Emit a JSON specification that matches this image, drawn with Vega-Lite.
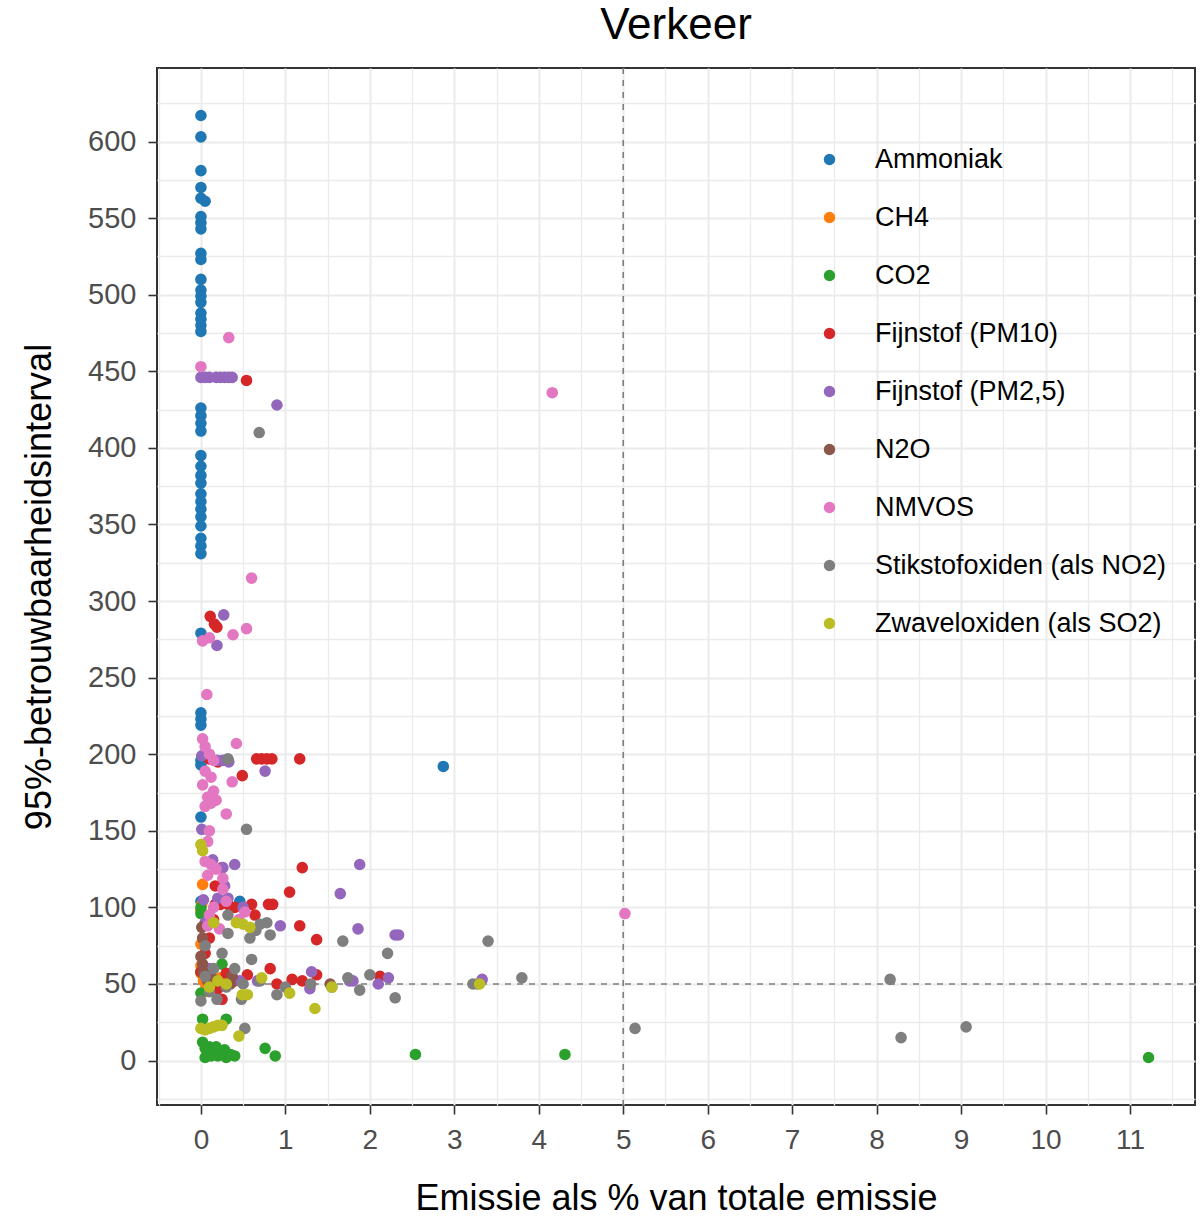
{
"$schema": "https://vega.github.io/schema/vega-lite/v6.json",
"width": 1038, "height": 1037,
"autosize": {"type": "none"},
"padding": {"left": 157, "top": 68, "right": 8, "bottom": 111},
"background": "white",
"config": {
  "font": "Liberation Sans",
  "view": {"stroke": "#333333", "strokeWidth": 2},
  "axis": {"domain": false, "gridColor": "#EBEBEB", "tickColor": "#333333", "tickWidth": 1.6, "tickSize": 9, "labelPadding": 7, "labelFont": "Liberation Sans", "labelFontSize": 28, "labelColor": "#4D4D4D", "titleFont": "Liberation Sans", "titleFontSize": 36, "titleFontWeight": "normal", "titleColor": "#000000"}
},
"title": {"text": "Verkeer", "fontSize": 44, "font": "Liberation Sans", "fontWeight": "normal", "anchor": "middle", "offset": 19, "color": "#000000"},
"resolve": {"axis": {"y": "independent"}},
"datasets": {
"punten": [
{"stof":"Ammoniak","emissie":0,"interval":617},{"stof":"Ammoniak","emissie":0,"interval":603},{"stof":"Ammoniak","emissie":0,"interval":581},{"stof":"Ammoniak","emissie":0,"interval":570},{"stof":"Ammoniak","emissie":0,"interval":563},{"stof":"Ammoniak","emissie":0.05,"interval":561},{"stof":"Ammoniak","emissie":0,"interval":551},{"stof":"Ammoniak","emissie":0,"interval":547},{"stof":"Ammoniak","emissie":0,"interval":543},{"stof":"Ammoniak","emissie":0,"interval":527},{"stof":"Ammoniak","emissie":0,"interval":523},{"stof":"Ammoniak","emissie":0,"interval":510},{"stof":"Ammoniak","emissie":0,"interval":503},{"stof":"Ammoniak","emissie":0,"interval":499},{"stof":"Ammoniak","emissie":0,"interval":495},{"stof":"Ammoniak","emissie":0,"interval":488},{"stof":"Ammoniak","emissie":0,"interval":484},{"stof":"Ammoniak","emissie":0,"interval":480},{"stof":"Ammoniak","emissie":0,"interval":476},{"stof":"Ammoniak","emissie":0,"interval":426},{"stof":"Ammoniak","emissie":0,"interval":421},{"stof":"Ammoniak","emissie":0,"interval":416},{"stof":"Ammoniak","emissie":0,"interval":411},{"stof":"Ammoniak","emissie":0,"interval":395},{"stof":"Ammoniak","emissie":0,"interval":388},{"stof":"Ammoniak","emissie":0,"interval":382},{"stof":"Ammoniak","emissie":0,"interval":377},{"stof":"Ammoniak","emissie":0,"interval":370},{"stof":"Ammoniak","emissie":0,"interval":365},{"stof":"Ammoniak","emissie":0,"interval":360},{"stof":"Ammoniak","emissie":0,"interval":355},{"stof":"Ammoniak","emissie":0,"interval":349},{"stof":"Ammoniak","emissie":0,"interval":341},{"stof":"Ammoniak","emissie":0,"interval":336},{"stof":"Ammoniak","emissie":0,"interval":331},{"stof":"Ammoniak","emissie":0,"interval":279},{"stof":"Ammoniak","emissie":0,"interval":227},{"stof":"Ammoniak","emissie":0,"interval":223},{"stof":"Ammoniak","emissie":0,"interval":219},{"stof":"Ammoniak","emissie":0,"interval":196},{"stof":"Ammoniak","emissie":0,"interval":193},{"stof":"Ammoniak","emissie":0,"interval":159},{"stof":"Ammoniak","emissie":0.46,"interval":104},{"stof":"Ammoniak","emissie":0,"interval":104},{"stof":"Ammoniak","emissie":2.87,"interval":192},
{"stof":"CH4","emissie":0.02,"interval":115},{"stof":"CH4","emissie":0.01,"interval":102},{"stof":"CH4","emissie":0,"interval":76},{"stof":"CH4","emissie":0,"interval":57},{"stof":"CH4","emissie":0.03,"interval":52},{"stof":"CH4","emissie":0.06,"interval":49},{"stof":"CH4","emissie":0.1,"interval":56},{"stof":"CH4","emissie":0.15,"interval":50},{"stof":"CH4","emissie":0.23,"interval":54},{"stof":"CH4","emissie":0.05,"interval":45},{"stof":"CH4","emissie":0,"interval":62},{"stof":"CH4","emissie":0.12,"interval":47},{"stof":"CH4","emissie":0,"interval":98},
{"stof":"CO2","emissie":11.22,"interval":2},{"stof":"CO2","emissie":4.31,"interval":4},{"stof":"CO2","emissie":2.54,"interval":4},{"stof":"CO2","emissie":0.88,"interval":3},{"stof":"CO2","emissie":0.76,"interval":8},{"stof":"CO2","emissie":0,"interval":96},{"stof":"CO2","emissie":0,"interval":100},{"stof":"CO2","emissie":0.25,"interval":63},{"stof":"CO2","emissie":0,"interval":44},{"stof":"CO2","emissie":0.02,"interval":27},{"stof":"CO2","emissie":0.3,"interval":27},{"stof":"CO2","emissie":0.02,"interval":12},{"stof":"CO2","emissie":0.05,"interval":8},{"stof":"CO2","emissie":0.08,"interval":4},{"stof":"CO2","emissie":0.12,"interval":3},{"stof":"CO2","emissie":0.15,"interval":6},{"stof":"CO2","emissie":0.2,"interval":3},{"stof":"CO2","emissie":0.25,"interval":5},{"stof":"CO2","emissie":0.3,"interval":2},{"stof":"CO2","emissie":0.35,"interval":4},{"stof":"CO2","emissie":0.4,"interval":3},{"stof":"CO2","emissie":0.1,"interval":9},{"stof":"CO2","emissie":0.18,"interval":9},{"stof":"CO2","emissie":0.28,"interval":7},{"stof":"CO2","emissie":0.05,"interval":2},{"stof":"CO2","emissie":0,"interval":58},
{"stof":"Fijnstof (PM10)","emissie":0.54,"interval":444},{"stof":"Fijnstof (PM10)","emissie":0.11,"interval":290},{"stof":"Fijnstof (PM10)","emissie":0.19,"interval":283},{"stof":"Fijnstof (PM10)","emissie":0.16,"interval":285},{"stof":"Fijnstof (PM10)","emissie":0.66,"interval":197},{"stof":"Fijnstof (PM10)","emissie":0.72,"interval":197},{"stof":"Fijnstof (PM10)","emissie":0.78,"interval":197},{"stof":"Fijnstof (PM10)","emissie":0.84,"interval":197},{"stof":"Fijnstof (PM10)","emissie":1.17,"interval":197},{"stof":"Fijnstof (PM10)","emissie":0.1,"interval":197},{"stof":"Fijnstof (PM10)","emissie":0.2,"interval":195},{"stof":"Fijnstof (PM10)","emissie":0.49,"interval":186},{"stof":"Fijnstof (PM10)","emissie":0.25,"interval":126},{"stof":"Fijnstof (PM10)","emissie":1.2,"interval":126},{"stof":"Fijnstof (PM10)","emissie":1.05,"interval":110},{"stof":"Fijnstof (PM10)","emissie":0.17,"interval":114},{"stof":"Fijnstof (PM10)","emissie":0.17,"interval":102},{"stof":"Fijnstof (PM10)","emissie":0.23,"interval":102},{"stof":"Fijnstof (PM10)","emissie":0.32,"interval":102},{"stof":"Fijnstof (PM10)","emissie":0.6,"interval":102},{"stof":"Fijnstof (PM10)","emissie":0.8,"interval":102},{"stof":"Fijnstof (PM10)","emissie":0.85,"interval":102},{"stof":"Fijnstof (PM10)","emissie":1.17,"interval":88},{"stof":"Fijnstof (PM10)","emissie":1.37,"interval":79},{"stof":"Fijnstof (PM10)","emissie":0.82,"interval":60},{"stof":"Fijnstof (PM10)","emissie":1.08,"interval":53},{"stof":"Fijnstof (PM10)","emissie":0.3,"interval":57},{"stof":"Fijnstof (PM10)","emissie":0.55,"interval":56},{"stof":"Fijnstof (PM10)","emissie":0,"interval":58},{"stof":"Fijnstof (PM10)","emissie":0.64,"interval":95},{"stof":"Fijnstof (PM10)","emissie":0.25,"interval":40},{"stof":"Fijnstof (PM10)","emissie":1.37,"interval":56},{"stof":"Fijnstof (PM10)","emissie":2.12,"interval":55},{"stof":"Fijnstof (PM10)","emissie":0.12,"interval":50},{"stof":"Fijnstof (PM10)","emissie":0.2,"interval":47},{"stof":"Fijnstof (PM10)","emissie":0.4,"interval":52},{"stof":"Fijnstof (PM10)","emissie":0.9,"interval":50},{"stof":"Fijnstof (PM10)","emissie":1.2,"interval":52},{"stof":"Fijnstof (PM10)","emissie":0.05,"interval":70},{"stof":"Fijnstof (PM10)","emissie":0.1,"interval":80},{"stof":"Fijnstof (PM10)","emissie":0.15,"interval":92},{"stof":"Fijnstof (PM10)","emissie":0.4,"interval":100},
{"stof":"Fijnstof (PM2,5)","emissie":0,"interval":446},{"stof":"Fijnstof (PM2,5)","emissie":0.05,"interval":446},{"stof":"Fijnstof (PM2,5)","emissie":0.1,"interval":446},{"stof":"Fijnstof (PM2,5)","emissie":0.18,"interval":446},{"stof":"Fijnstof (PM2,5)","emissie":0.23,"interval":446},{"stof":"Fijnstof (PM2,5)","emissie":0.28,"interval":446},{"stof":"Fijnstof (PM2,5)","emissie":0.33,"interval":446},{"stof":"Fijnstof (PM2,5)","emissie":0.37,"interval":446},{"stof":"Fijnstof (PM2,5)","emissie":0.9,"interval":428},{"stof":"Fijnstof (PM2,5)","emissie":0.27,"interval":291},{"stof":"Fijnstof (PM2,5)","emissie":0.19,"interval":271},{"stof":"Fijnstof (PM2,5)","emissie":0.01,"interval":199},{"stof":"Fijnstof (PM2,5)","emissie":0.19,"interval":196},{"stof":"Fijnstof (PM2,5)","emissie":0.26,"interval":196},{"stof":"Fijnstof (PM2,5)","emissie":0.33,"interval":195},{"stof":"Fijnstof (PM2,5)","emissie":0.76,"interval":189},{"stof":"Fijnstof (PM2,5)","emissie":0.01,"interval":151},{"stof":"Fijnstof (PM2,5)","emissie":0.14,"interval":131},{"stof":"Fijnstof (PM2,5)","emissie":0.4,"interval":128},{"stof":"Fijnstof (PM2,5)","emissie":0.26,"interval":126},{"stof":"Fijnstof (PM2,5)","emissie":1.88,"interval":128},{"stof":"Fijnstof (PM2,5)","emissie":1.65,"interval":109},{"stof":"Fijnstof (PM2,5)","emissie":0.32,"interval":106},{"stof":"Fijnstof (PM2,5)","emissie":0.2,"interval":106},{"stof":"Fijnstof (PM2,5)","emissie":0.94,"interval":88},{"stof":"Fijnstof (PM2,5)","emissie":1.86,"interval":86},{"stof":"Fijnstof (PM2,5)","emissie":2.3,"interval":82},{"stof":"Fijnstof (PM2,5)","emissie":2.34,"interval":82},{"stof":"Fijnstof (PM2,5)","emissie":1.31,"interval":58},{"stof":"Fijnstof (PM2,5)","emissie":1.76,"interval":52},{"stof":"Fijnstof (PM2,5)","emissie":1.8,"interval":52},{"stof":"Fijnstof (PM2,5)","emissie":2.1,"interval":50},{"stof":"Fijnstof (PM2,5)","emissie":2.22,"interval":54},{"stof":"Fijnstof (PM2,5)","emissie":1.29,"interval":47},{"stof":"Fijnstof (PM2,5)","emissie":3.33,"interval":53},{"stof":"Fijnstof (PM2,5)","emissie":0.67,"interval":52},{"stof":"Fijnstof (PM2,5)","emissie":0.46,"interval":52},{"stof":"Fijnstof (PM2,5)","emissie":0.05,"interval":90},{"stof":"Fijnstof (PM2,5)","emissie":0.1,"interval":60},{"stof":"Fijnstof (PM2,5)","emissie":0.28,"interval":114},{"stof":"Fijnstof (PM2,5)","emissie":0.5,"interval":100},{"stof":"Fijnstof (PM2,5)","emissie":0.03,"interval":105},
{"stof":"N2O","emissie":0.01,"interval":87},{"stof":"N2O","emissie":0,"interval":68},{"stof":"N2O","emissie":0.02,"interval":63},{"stof":"N2O","emissie":0.03,"interval":58},{"stof":"N2O","emissie":0.37,"interval":55},{"stof":"N2O","emissie":0.35,"interval":50},{"stof":"N2O","emissie":1.53,"interval":50},{"stof":"N2O","emissie":0.08,"interval":52},{"stof":"N2O","emissie":0.15,"interval":53},{"stof":"N2O","emissie":0.02,"interval":80},
{"stof":"NMVOS","emissie":0.33,"interval":472},{"stof":"NMVOS","emissie":0,"interval":453},{"stof":"NMVOS","emissie":4.16,"interval":436},{"stof":"NMVOS","emissie":0.6,"interval":315},{"stof":"NMVOS","emissie":0.54,"interval":282},{"stof":"NMVOS","emissie":0.38,"interval":278},{"stof":"NMVOS","emissie":0.02,"interval":274},{"stof":"NMVOS","emissie":0.1,"interval":276},{"stof":"NMVOS","emissie":0.07,"interval":239},{"stof":"NMVOS","emissie":0.42,"interval":207},{"stof":"NMVOS","emissie":0.02,"interval":210},{"stof":"NMVOS","emissie":0.05,"interval":205},{"stof":"NMVOS","emissie":0.1,"interval":200},{"stof":"NMVOS","emissie":0.15,"interval":196},{"stof":"NMVOS","emissie":0.05,"interval":189},{"stof":"NMVOS","emissie":0.12,"interval":185},{"stof":"NMVOS","emissie":0.02,"interval":180},{"stof":"NMVOS","emissie":0.15,"interval":176},{"stof":"NMVOS","emissie":0.08,"interval":172},{"stof":"NMVOS","emissie":0.18,"interval":170},{"stof":"NMVOS","emissie":0.05,"interval":166},{"stof":"NMVOS","emissie":0.12,"interval":168},{"stof":"NMVOS","emissie":0.37,"interval":182},{"stof":"NMVOS","emissie":0.3,"interval":161},{"stof":"NMVOS","emissie":0.1,"interval":150},{"stof":"NMVOS","emissie":0.08,"interval":143},{"stof":"NMVOS","emissie":0.05,"interval":130},{"stof":"NMVOS","emissie":0.12,"interval":128},{"stof":"NMVOS","emissie":0.18,"interval":125},{"stof":"NMVOS","emissie":0.08,"interval":121},{"stof":"NMVOS","emissie":0.26,"interval":119},{"stof":"NMVOS","emissie":0.26,"interval":112},{"stof":"NMVOS","emissie":0.3,"interval":104},{"stof":"NMVOS","emissie":0.52,"interval":97},{"stof":"NMVOS","emissie":0.22,"interval":86},{"stof":"NMVOS","emissie":5.02,"interval":96},{"stof":"NMVOS","emissie":0.15,"interval":100},{"stof":"NMVOS","emissie":0.45,"interval":92},{"stof":"NMVOS","emissie":0.1,"interval":95},{"stof":"NMVOS","emissie":0.08,"interval":88},
{"stof":"Stikstofoxiden (als NO2)","emissie":0.69,"interval":410},{"stof":"Stikstofoxiden (als NO2)","emissie":0.54,"interval":151},{"stof":"Stikstofoxiden (als NO2)","emissie":0.32,"interval":197},{"stof":"Stikstofoxiden (als NO2)","emissie":3.4,"interval":78},{"stof":"Stikstofoxiden (als NO2)","emissie":3.22,"interval":50},{"stof":"Stikstofoxiden (als NO2)","emissie":3.27,"interval":50},{"stof":"Stikstofoxiden (als NO2)","emissie":3.8,"interval":54},{"stof":"Stikstofoxiden (als NO2)","emissie":5.14,"interval":21},{"stof":"Stikstofoxiden (als NO2)","emissie":8.16,"interval":53},{"stof":"Stikstofoxiden (als NO2)","emissie":8.29,"interval":15},{"stof":"Stikstofoxiden (als NO2)","emissie":9.06,"interval":22},{"stof":"Stikstofoxiden (als NO2)","emissie":2.21,"interval":70},{"stof":"Stikstofoxiden (als NO2)","emissie":2.3,"interval":41},{"stof":"Stikstofoxiden (als NO2)","emissie":1.68,"interval":78},{"stof":"Stikstofoxiden (als NO2)","emissie":1.74,"interval":54},{"stof":"Stikstofoxiden (als NO2)","emissie":1.88,"interval":46},{"stof":"Stikstofoxiden (als NO2)","emissie":2.0,"interval":56},{"stof":"Stikstofoxiden (als NO2)","emissie":0.6,"interval":66},{"stof":"Stikstofoxiden (als NO2)","emissie":0.25,"interval":70},{"stof":"Stikstofoxiden (als NO2)","emissie":0.52,"interval":21},{"stof":"Stikstofoxiden (als NO2)","emissie":0.9,"interval":43},{"stof":"Stikstofoxiden (als NO2)","emissie":0.48,"interval":40},{"stof":"Stikstofoxiden (als NO2)","emissie":0.19,"interval":40},{"stof":"Stikstofoxiden (als NO2)","emissie":0,"interval":39},{"stof":"Stikstofoxiden (als NO2)","emissie":0.58,"interval":80},{"stof":"Stikstofoxiden (als NO2)","emissie":0.65,"interval":85},{"stof":"Stikstofoxiden (als NO2)","emissie":0.7,"interval":89},{"stof":"Stikstofoxiden (als NO2)","emissie":0.78,"interval":90},{"stof":"Stikstofoxiden (als NO2)","emissie":0.82,"interval":82},{"stof":"Stikstofoxiden (als NO2)","emissie":0.32,"interval":83},{"stof":"Stikstofoxiden (als NO2)","emissie":0.4,"interval":60},{"stof":"Stikstofoxiden (als NO2)","emissie":0.32,"interval":95},{"stof":"Stikstofoxiden (als NO2)","emissie":0.1,"interval":45},{"stof":"Stikstofoxiden (als NO2)","emissie":0.3,"interval":48},{"stof":"Stikstofoxiden (als NO2)","emissie":1.3,"interval":50},{"stof":"Stikstofoxiden (als NO2)","emissie":1.55,"interval":48},{"stof":"Stikstofoxiden (als NO2)","emissie":0.05,"interval":55},{"stof":"Stikstofoxiden (als NO2)","emissie":0.15,"interval":60},{"stof":"Stikstofoxiden (als NO2)","emissie":0.05,"interval":75},{"stof":"Stikstofoxiden (als NO2)","emissie":0.5,"interval":50},{"stof":"Stikstofoxiden (als NO2)","emissie":0.7,"interval":52},{"stof":"Stikstofoxiden (als NO2)","emissie":1.0,"interval":48},
{"stof":"Zwaveloxiden (als SO2)","emissie":0,"interval":141},{"stof":"Zwaveloxiden (als SO2)","emissie":0.02,"interval":137},{"stof":"Zwaveloxiden (als SO2)","emissie":1.35,"interval":34},{"stof":"Zwaveloxiden (als SO2)","emissie":1.05,"interval":44},{"stof":"Zwaveloxiden (als SO2)","emissie":0.45,"interval":16},{"stof":"Zwaveloxiden (als SO2)","emissie":0,"interval":21},{"stof":"Zwaveloxiden (als SO2)","emissie":0.05,"interval":20},{"stof":"Zwaveloxiden (als SO2)","emissie":0.1,"interval":21},{"stof":"Zwaveloxiden (als SO2)","emissie":0.15,"interval":22},{"stof":"Zwaveloxiden (als SO2)","emissie":0.2,"interval":23},{"stof":"Zwaveloxiden (als SO2)","emissie":0.25,"interval":23},{"stof":"Zwaveloxiden (als SO2)","emissie":0.5,"interval":89},{"stof":"Zwaveloxiden (als SO2)","emissie":0.42,"interval":90},{"stof":"Zwaveloxiden (als SO2)","emissie":0.58,"interval":87},{"stof":"Zwaveloxiden (als SO2)","emissie":0.72,"interval":54},{"stof":"Zwaveloxiden (als SO2)","emissie":0.55,"interval":43},{"stof":"Zwaveloxiden (als SO2)","emissie":0.49,"interval":43},{"stof":"Zwaveloxiden (als SO2)","emissie":1.55,"interval":48},{"stof":"Zwaveloxiden (als SO2)","emissie":3.3,"interval":50},{"stof":"Zwaveloxiden (als SO2)","emissie":0.15,"interval":90},{"stof":"Zwaveloxiden (als SO2)","emissie":0.2,"interval":52},{"stof":"Zwaveloxiden (als SO2)","emissie":0.1,"interval":48},{"stof":"Zwaveloxiden (als SO2)","emissie":0.3,"interval":50}
],
"vlijn": [{"emissie": 5}],
"hlijn": [{"interval": 50}]
},
"layer": [
{
  "data": {"name": "vlijn"},
  "mark": {"type": "rule", "color": "#7F7F7F", "strokeWidth": 1.6, "strokeDash": [6, 6]},
  "encoding": {"x": {"field": "emissie", "type": "quantitative"}}
},
{
  "data": {"name": "hlijn"},
  "mark": {"type": "rule", "color": "#7F7F7F", "strokeWidth": 1.6, "strokeDash": [6, 6]},
  "encoding": {"y": {"field": "interval", "type": "quantitative",
    "scale": {"domain": [-29, 648], "nice": false, "zero": false},
    "axis": {"orient": "right", "title": null, "labels": false, "ticks": false, "domain": false,
      "grid": true, "gridWidth": 1.3, "gridColor": "#EBEBEB",
      "values": [-25,25,75,125,175,225,275,325,375,425,475,525,575,625]}}}
},
{
  "data": {"name": "punten"},
  "mark": {"type": "point", "shape": "circle", "filled": true, "opacity": 1, "size": 135, "strokeWidth": 0},
  "encoding": {
    "x": {"field": "emissie", "type": "quantitative",
      "scale": {"domain": [-0.52, 11.77], "nice": false, "zero": false},
      "axis": {"title": "Emissie als % van totale emissie", "titlePadding": 27, "labelPadding": 12,
        "values": [-0.5,0,0.5,1,1.5,2,2.5,3,3.5,4,4.5,5,5.5,6,6.5,7,7.5,8,8.5,9,9.5,10,10.5,11,11.5],
        "labelExpr": "datum.value % 1 === 0 ? '' + datum.value : ''",
        "tickOpacity": {"condition": {"test": "datum.value % 1 !== 0", "value": 0}, "value": 1},
        "gridWidth": {"condition": {"test": "datum.value % 1 !== 0", "value": 1.3}, "value": 2}}},
    "y": {"field": "interval", "type": "quantitative",
      "scale": {"domain": [-29, 648], "nice": false, "zero": false},
      "axis": {"orient": "left", "title": "95%-betrouwbaarheidsinterval", "titlePadding": 29, "labelPadding": 12, "labelFontSize": 29,
        "values": [0,50,100,150,200,250,300,350,400,450,500,550,600],
        "grid": true, "gridWidth": 2, "gridColor": "#EBEBEB"}},
    "color": {"field": "stof", "type": "nominal",
      "scale": {"domain": ["Ammoniak","CH4","CO2","Fijnstof (PM10)","Fijnstof (PM2,5)","N2O","NMVOS","Stikstofoxiden (als NO2)","Zwaveloxiden (als SO2)"],
        "range": ["#1f77b4","#ff7f0e","#2ca02c","#d62728","#9467bd","#8c564b","#e377c2","#7f7f7f","#bcbd22"]},
      "legend": {"title": null, "orient": "none", "legendX": 659, "legendY": 78, "padding": 0,
        "symbolType": "circle", "symbolSize": 130, "symbolStrokeWidth": 0, "symbolOpacity": 1,
        "labelFont": "Liberation Sans", "labelFontSize": 27, "labelColor": "#000000", "labelLimit": 400,
        "labelOffset": 32, "rowPadding": 30}}
  }
}
]
}
